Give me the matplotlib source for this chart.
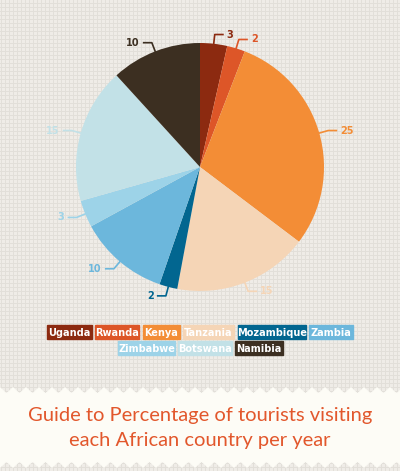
import numpy as np
import matplotlib
matplotlib.use("Agg")
import matplotlib.pyplot as plt
from matplotlib.patches import Rectangle, Polygon

# data
countries = ["Uganda", "Rwanda", "Kenya", "Tanzania", "Mozambique",
             "Zambia", "Zimbabwe", "Botswana", "Namibia"]
tourists = [3, 2, 25, 15, 2, 10, 3, 15, 10]
colors = ["#8c2a10", "#dd5628", "#f38d36", "#f5d5b6", "#026690",
          "#6cb7dc", "#9dd3e8", "#c2e1e7", "#3c2f21"]
title = "Guide to Percentage of tourists visiting\neach African country per year"

# legend layout (pixels from top-left): row, left x, width
legend_rows = [[0, 1, 2, 3, 4, 5], [6, 7, 8]]
legend_x = [47, 95, 143, 183, 238, 309, 118, 178, 235]
legend_w = [45, 44, 37, 51, 68, 44, 57, 54, 48]
row_y = [325, 341]
box_h = 14

W, H = 400, 471
fig = plt.figure(figsize=(W / 100, H / 100), dpi=100)
ax = fig.add_axes([0, 0, 1, 1])
ax.set_xlim(0, W)
ax.set_ylim(0, H)
ax.axis("off")

def py(y):
    # pixel from top -> data y
    return H - y

# background with fine grid
ax.add_patch(Rectangle((0, 0), W, H, color="#efece7", zorder=0))
for g in np.arange(0, W + 1, 4):
    ax.axvline(g + 0.5, color="#e2dfd9", lw=0.7, zorder=0.5)
for g in np.arange(0, H + 1, 4):
    ax.axhline(g + 0.5, color="#e2dfd9", lw=0.7, zorder=0.5)

# cream panel with zigzag edges
step = 13
xs = np.arange(-step, W + 2 * step, step / 2)
top = [py(388) if i % 2 == 0 else py(394) for i in range(len(xs))]
bot = [py(467) if i % 2 == 0 else py(461) for i in range(len(xs))]
pts = list(zip(xs, top)) + list(zip(xs[::-1], bot[::-1]))
ax.add_patch(Polygon(pts, closed=True, color="#fdfcf6", zorder=1))

# pie
cx, cy, R = 200, py(167), 124
wedges, _ = ax.pie(tourists, colors=colors, startangle=90, counterclock=False,
                   center=(cx, cy), radius=R, frame=True,
                   wedgeprops=dict(linewidth=0))
ax.set_xlim(0, W)
ax.set_ylim(0, H)
ax.set_aspect("auto")

label_font = dict(family=["DejaVu Sans"], stretch="condensed", weight="bold", size=7.8)

for w, val, col in zip(wedges, tourists, colors):
    ang = np.deg2rad((w.theta1 + w.theta2) / 2)
    x0, y0 = cx + R * 0.99 * np.cos(ang), cy + R * 0.99 * np.sin(ang)
    x1, y1 = cx + R * 1.075 * np.cos(ang), cy + R * 1.075 * np.sin(ang)
    side = 1 if np.cos(ang) >= 0 else -1
    x2 = x1 + side * 9
    ax.plot([x0, x1, x2], [y0, y1, y1], color=col, lw=1.2,
            solid_joinstyle="round", solid_capstyle="butt", zorder=3)
    ax.text(x2 + side * 3, y1, str(val), color=col,
            ha="left" if side > 0 else "right", va="center", zorder=3, **label_font)

# legend boxes
for r, idxs in enumerate(legend_rows):
    for i in idxs:
        y = py(row_y[r] + box_h)
        ax.add_patch(Rectangle((legend_x[i], y), legend_w[i], box_h,
                               color=colors[i], zorder=3))
        ax.text(legend_x[i] + legend_w[i] / 2, y + box_h / 2 - 0.5, countries[i],
                color="white", ha="center", va="center", zorder=4, **label_font)

# title
ax.text(200, py(428), title, color="#e2572c", ha="center", va="center",
        family=["Lato", "DejaVu Sans"], weight="normal", size=14.5,
        linespacing=1.55, zorder=4)

fig.savefig("out.png", dpi=100)
